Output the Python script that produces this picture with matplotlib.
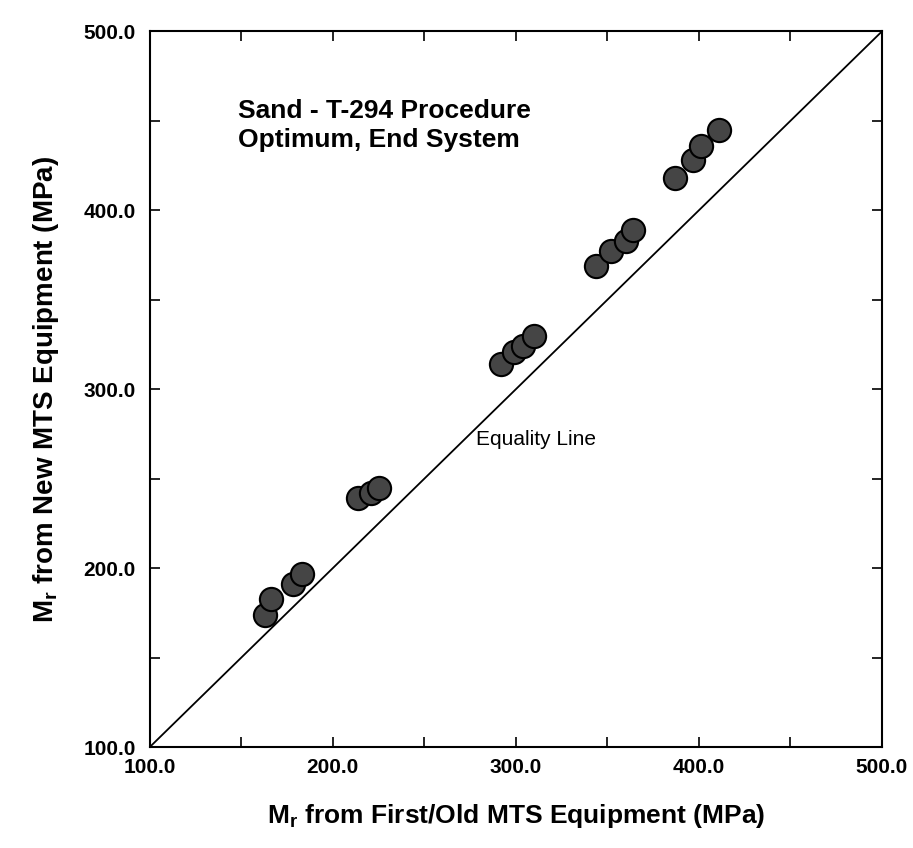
import numpy as np
import matplotlib
matplotlib.use('Agg')
import matplotlib.pyplot as plt
from matplotlib.ticker import MultipleLocator, FormatStrFormatter

plt.rcParams['font.family'] = ['Liberation Sans', 'DejaVu Sans']
plt.rcParams['mathtext.default'] = 'regular'

# Mr values (MPa)
old_mts = [163, 166, 178, 183,
           214, 221, 225,
           292, 299, 304, 310,
           344, 352, 360, 364,
           387, 397, 401, 411]
new_mts = [174, 183, 191, 197,
           239, 242, 245,
           314, 321, 324, 330,
           369, 377, 383, 389,
           418, 428, 436, 445]
equality = [100, 500]
ticks = [100, 200, 300, 400, 500]

fig = plt.figure(figsize=(9.13, 8.48), dpi=100)
ax = fig.add_axes([0.164, 0.119, 0.802, 0.844])

ax.plot(equality, equality, color='black', lw=1.3, zorder=2)
ax.scatter(old_mts, new_mts, s=280, color='#454545', edgecolor='black',
           linewidth=1.5, zorder=3)

ax.set_xlim(100, 500)
ax.set_ylim(100, 500)
ax.set_xticks(ticks)
ax.set_yticks(ticks)
ax.xaxis.set_minor_locator(MultipleLocator(50))
ax.yaxis.set_minor_locator(MultipleLocator(50))
ax.xaxis.set_major_formatter(FormatStrFormatter('%.1f'))
ax.yaxis.set_major_formatter(FormatStrFormatter('%.1f'))
ax.tick_params(which='both', direction='in', length=7, width=1.2,
               top=True, right=True)
ax.tick_params(axis='x', pad=8)
ax.tick_params(axis='y', pad=10)
for lab in ax.get_xticklabels() + ax.get_yticklabels():
    lab.set_fontsize(15)
    lab.set_fontweight('bold')
for sp in ax.spines.values():
    sp.set_linewidth(1.5)

ax.set_xlabel('M$_r$ from First/Old MTS Equipment (MPa)', fontsize=19,
              fontweight='bold', labelpad=18)
ax.set_ylabel('M$_r$ from New MTS Equipment (MPa)', fontsize=20,
              fontweight='bold', labelpad=16)

ax.text(148, 462, 'Sand - T-294 Procedure\nOptimum, End System',
        fontsize=19, fontweight='bold', va='top', ha='left',
        linespacing=1.25)
ax.text(278, 272, 'Equality Line', fontsize=15, va='center', ha='left')

fig.savefig('out.png', dpi=100)
